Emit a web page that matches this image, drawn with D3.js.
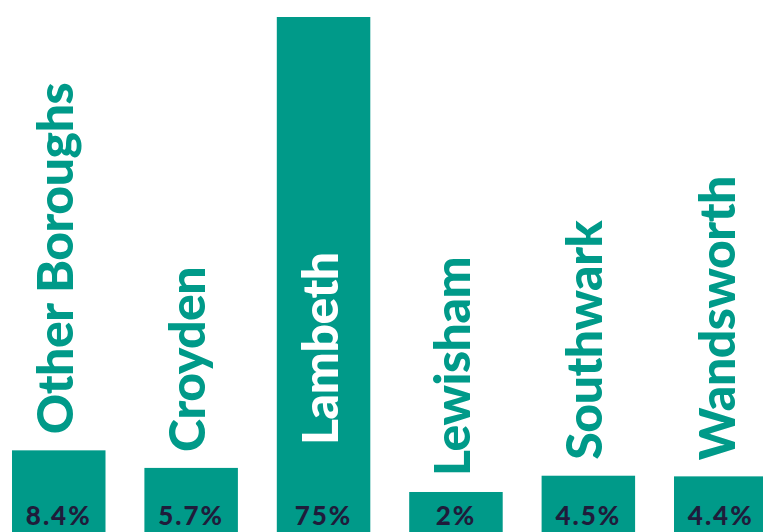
<!DOCTYPE html>
<html>
<head>
<meta charset="utf-8">
<script src="https://cdn.jsdelivr.net/npm/d3@7"></script>
<style>
  html, body { margin: 0; padding: 0; background: #ffffff; }
  svg { display: block; }
  text { font-family: Lato, "Open Sans", sans-serif; }
</style>
</head>
<body>
<svg id="chart" width="763" height="532"></svg>
<script>
// Share of residents by borough
const categories = ["Other Boroughs", "Croyden", "Lambeth", "Lewisham", "Southwark", "Wandsworth"];
const shares = [8.4, 5.7, 75, 2, 4.5, 4.4];
const shareLabels = ["8.4%", "5.7%", "75%", "2%", "4.5%", "4.4%"];

const W = 763, H = 532;
const teal = "#009a89";
const navy = "#1f1c3b";

const svg = d3.select("#chart");

const rows = categories.map((c, i) => ({ name: c, value: shares[i], label: shareLabels[i] }));

// Bands: step ~132px, bars ~93px wide; the last bar runs off the right edge
const step = 132.4, barW = 93.5;
const x = d3.scaleBand()
  .domain(categories)
  .range([12, 12 + 6 * step - (step - barW)])
  .paddingInner(1 - barW / step)
  .paddingOuter(0);

// Bars stand on the bottom edge; the value 0 sits just above the band
// that holds the percentage labels
const y = d3.scaleLinear().domain([0, 75]).range([505, 17]);

const g = svg.append("g");

g.selectAll("rect.bar")
  .data(rows)
  .join("rect")
  .attr("class", "bar")
  .attr("x", d => x(d.name))
  .attr("y", d => y(d.value))
  .attr("width", x.bandwidth())
  .attr("height", d => H - y(d.value))
  .attr("fill", teal);

// Percentage labels at the foot of each bar
g.selectAll("text.value")
  .data(rows)
  .join("text")
  .attr("class", "value")
  .attr("x", d => x(d.name) + x.bandwidth() / 2)
  .attr("y", 525)
  .attr("text-anchor", "middle")
  .attr("fill", navy)
  .attr("font-size", 26)
  .attr("font-weight", 900)
  .attr("letter-spacing", 2)
  .text(d => d.label);

// Borough names, rotated; placed above the bar, or inside it when the bar is tall
const nameSize = 50;
const gap = 16;
const names = g.selectAll("text.name")
  .data(rows)
  .join("text")
  .attr("class", "name")
  .attr("font-size", nameSize)
  .attr("font-weight", 900)
  .attr("letter-spacing", -0.5)
  .text(d => d.name);

names.each(function(d) {
  const len = this.getComputedTextLength();
  const top = y(d.value);
  const inside = top - gap - len < 0;
  const cx = x(d.name) + x.bandwidth() / 2 + 14;
  const cy = inside ? 445 : top - gap;
  d3.select(this)
    .attr("fill", inside ? "#ffffff" : teal)
    .attr("transform", `translate(${cx},${cy}) rotate(-90)`);
});
</script>
</body>
</html>
